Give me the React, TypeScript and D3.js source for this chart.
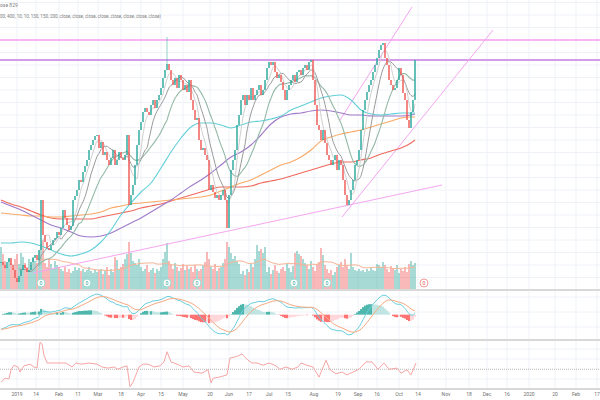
import React from 'react';
import * as d3 from 'd3';

// ---- daily closes (price units) ----
const closes = [
  52.8, 52.5, 52.2, 52.8, 53.2, 52.5, 52.0, 51.2, 50.8, 51.4, 52.0, 52.5, 52.2, 51.8, 52.0, 52.8, 53.2, 53.5, 53.0, 54.0,
  59.0, 55.5, 54.8, 54.2, 54.0, 54.5, 55.0, 55.2, 55.8, 55.5,
  56.2, 58.0, 57.2, 56.5, 56.0, 56.4, 59.0, 59.4, 60.0, 61.0,
  60.8, 61.8, 62.4, 63.0, 64.0, 64.5, 65.0, 65.4, 65.5, 64.2,
  64.8, 63.5, 63.8, 63.0, 62.5, 63.2, 64.0, 62.5, 63.0, 63.8,
  63.2, 63.0, 63.5, 65.5, 58.5, 59.5, 60.5, 62.5, 64.5, 66.0,
  66.8, 67.8, 68.2, 67.8, 67.5, 68.5, 69.0, 68.2, 69.0, 69.5,
  70.2, 71.2, 72.0, 72.6, 72.0, 71.0, 70.5, 71.2, 70.2, 71.5,
  71.0, 70.0, 70.5, 69.8, 71.0, 69.0, 68.0, 67.0, 67.2, 65.0,
  64.0, 64.2, 63.5, 63.0, 60.0, 60.5, 59.8, 59.2, 59.5, 59.0,
  59.5, 60.0, 59.0, 56.2, 59.5, 62.0, 63.0, 64.0, 66.5, 67.5,
  69.0, 69.5, 68.5, 69.5, 69.0, 70.2, 69.0, 69.5, 70.0, 70.5,
  69.5, 70.0, 71.0, 72.2, 72.8, 72.5, 72.8, 71.8, 71.2, 71.5,
  70.8, 70.0, 69.0, 70.0, 70.5, 71.0, 71.5, 70.8, 71.8, 72.0,
  71.5, 72.2, 72.5, 72.0, 72.8, 73.0, 71.0, 68.5, 66.5, 66.0,
  65.0, 66.0, 64.7, 63.5, 63.0, 62.5, 63.0, 63.5, 62.0, 63.0,
  62.5, 61.0, 59.5, 58.5, 59.0, 60.0, 61.0, 62.5, 63.0, 64.0,
  66.0, 68.0, 69.0, 69.8, 70.5, 71.0, 71.8, 72.5, 73.2, 74.0,
  74.5, 74.7, 73.2, 72.5, 71.0, 70.5, 70.0, 70.2, 71.0, 72.2,
  71.5, 69.7, 69.0, 67.0, 66.2, 67.8, 69.0, 73.0,
];

// ---- daily volume (millions) ----
const volumes = [
  4.2, 3.5, 2.8, 2.2, 3.0, 2.6, 2.1, 3.0, 3.5, 2.5, 3.6, 3.2, 2.6, 2.2, 3.0, 2.4, 3.2, 2.8, 2.6, 3.0,
  4.5, 4.9, 2.6, 2.2, 3.0, 2.5, 2.0, 2.8, 2.4, 2.2,
  2.0, 1.8, 2.2, 1.7, 2.0, 1.6, 1.8, 2.2, 1.9, 2.1,
  1.8, 2.0, 1.7, 1.9, 2.2, 1.8, 1.6, 2.0, 1.7, 1.9,
  2.0, 1.5, 1.8, 2.2, 1.4, 2.0, 1.7, 3.2, 2.9, 2.0,
  2.2, 2.5, 3.0, 3.5, 4.7, 3.6, 2.8, 2.6, 2.4, 3.0,
  2.2, 1.8, 2.0, 2.4, 1.7, 1.9, 2.1, 1.6, 2.0, 1.8,
  2.2, 3.0, 3.7, 4.6, 2.8, 2.4, 2.0, 2.6, 2.2, 1.8,
  2.1, 2.5, 1.9, 2.3, 2.0, 2.2, 1.7, 2.4, 2.0, 1.8,
  2.0, 2.4, 2.7, 3.7, 3.0, 2.2, 2.0, 2.5, 1.8, 2.1,
  2.2, 2.6, 3.0, 4.7, 4.2, 3.6, 3.0, 3.3, 2.8, 2.5,
  1.5, 1.8, 1.4, 2.0, 1.7, 2.5, 2.2, 3.0, 4.4, 3.8,
  4.0, 3.6, 4.2, 1.7, 2.2, 1.5, 1.9, 2.4, 1.8, 1.6,
  2.0, 2.2, 1.8, 2.5, 2.1, 1.7, 2.3, 3.6, 3.8, 3.5,
  3.3, 3.0, 2.6, 2.4, 2.0, 2.8, 2.2, 1.8, 2.5, 2.7,
  4.1, 3.4, 2.4, 2.0, 1.6, 1.9, 1.4, 1.7, 2.2, 2.4,
  2.7, 2.2, 3.0, 2.4, 2.0, 3.6, 2.2, 1.9, 1.8, 2.0,
  1.8, 1.9, 1.7, 2.0, 1.8, 2.1, 1.9, 1.8, 2.5, 2.4,
  2.2, 2.7, 2.4, 2.0, 1.7, 2.3, 2.1, 1.9, 2.4, 1.6,
  2.0, 1.8, 2.2, 1.7, 2.5, 2.8, 2.4, 2.6,
];

// notable wick extremes [index, high]
const wickHighIdx = [83];
const wickHighVal = [75.3];

const maIdx = [0, 5, 10, 15, 20, 25, 30, 35, 40, 45, 50, 55, 60, 65, 70, 75, 80, 85, 90, 95, 100, 105, 110, 115, 120, 125, 130, 135, 140, 145, 150, 155, 160, 165, 170, 175, 180, 185, 190, 195, 200, 205, 207];
const maCyan = [54.7, 54.7, 54.8, 54.7, 54.4, 54.0, 53.6, 53.4, 53.6, 54.0, 54.8, 56.0, 57.5, 58.7, 59.8, 60.7, 62.2, 63.8, 65.2, 66.3, 66.7, 66.7, 66.5, 66.2, 66.5, 66.8, 66.9, 67.1, 67.4, 68.0, 68.4, 68.8, 69.2, 69.4, 69.5, 69.0, 68.0, 67.6, 67.5, 67.6, 67.7, 67.7, 67.7];
const maPurple = [58.8, 58.4, 58.0, 57.5, 57.0, 56.5, 56.2, 55.8, 55.4, 55.3, 55.4, 55.7, 56.2, 56.7, 57.2, 57.8, 58.4, 59.0, 59.7, 60.4, 61.0, 61.7, 62.5, 63.3, 63.8, 64.5, 65.5, 66.6, 67.3, 67.6, 67.7, 67.9, 68.0, 67.9, 67.7, 67.5, 67.5, 67.4, 67.4, 67.4, 67.4, 67.5, 67.6];
const maOrange = [57.7, 57.6, 57.5, 57.4, 57.4, 57.3, 57.3, 57.4, 57.5, 57.6, 57.8, 58.2, 58.4, 58.6, 58.7, 58.8, 58.9, 59.0, 59.1, 59.2, 59.3, 59.5, 59.9, 60.3, 60.7, 61.0, 61.5, 62.0, 62.5, 62.8, 63.3, 64.0, 64.9, 65.3, 65.6, 65.8, 66.0, 66.3, 66.6, 66.9, 67.2, 67.3, 67.3];
const maRed = [59.0, 58.6, 58.3, 57.9, 57.5, 57.2, 57.1, 57.1, 57.1, 57.1, 57.3, 57.5, 57.7, 57.9, 58.2, 58.4, 58.6, 58.9, 59.2, 59.5, 59.8, 60.1, 60.3, 60.3, 60.3, 60.4, 60.7, 60.9, 61.1, 61.4, 61.7, 62.0, 62.3, 62.6, 62.8, 62.8, 63.0, 63.2, 63.6, 63.9, 64.2, 64.7, 65.0];

// ---- lower oscillator (sampled) ----
const oscIdx = [0, 2, 4, 5, 6.5, 8.5, 9.5, 11.5, 14.5, 16.5, 18, 19.5, 20.5, 21.5, 23, 27, 32.5, 35.5, 37.5, 40, 44, 48, 50.5, 53.5, 56.5, 58.5, 61, 63, 64.5, 66, 69, 71, 73.5, 76.5, 79.5, 81.5, 83, 85, 88, 91, 94, 96.5, 100.5, 103.5, 105, 106, 109, 113, 114.5, 117.5, 120.5, 123.5, 125.5, 128, 131, 134, 137, 139.5, 142.5, 145.5, 148.5, 150, 153, 156, 159, 160.5, 162.5, 164.5, 167.5, 170.5, 173, 176, 179, 182.5, 185.5, 188.5, 191.5, 194, 198, 200, 203, 205, 207.5];
const oscVal = [27, 34, 33, 49, 57, 54, 45, 56, 59, 54, 52, 98, 95, 75, 61, 61, 61, 54, 61, 59, 61, 59, 54, 52, 54, 50, 54, 56, 19, 27, 54, 59, 59, 54, 56, 63, 81, 63, 59, 54, 56, 45, 43, 49, 26, 34, 36, 40, 70, 72, 77, 66, 61, 61, 57, 61, 57, 50, 54, 50, 54, 61, 57, 54, 36, 49, 66, 49, 42, 45, 40, 45, 50, 63, 63, 50, 61, 50, 52, 43, 49, 40, 61];

// ---- time axis labels ----
const tickLabels = ['2019', '14', 'Feb', '11', 'Mar', '18', 'Apr', '15', 'May', '20', 'Jun', '17', 'Jul', '15', 'Aug', '19', 'Sep', '16', 'Oct', '14', 'Nov', '18', 'Dec', '16', '2020', '20', 'Feb', '17'];
const tickIdx = [8, 17.5, 29, 38.5, 48.5, 60, 70, 80, 91, 104.5, 114, 124, 134, 143.5, 156.5, 168.5, 178.5, 188, 199, 208.5, 222.5, 234, 243, 253, 264, 277, 287.5, 298];

// ---- event markers ----
const eventIdx = [20, 43, 83, 98, 146.5, 163, 211.5];
const eventFuture = [false, false, false, false, false, false, true];

// ---- drawings: [idx1, price1, idx2, price2] ----
const hLevels = [75.0, 73.0];
const trendA = [16, 51.7, 220.5, 60.5];
const trendB = [170.5, 57.3, 246, 76.0];
const trendC = [169.5, 67.0, 205.5, 78.3];

function sma(a: number[], n: number): (number | null)[] {
  return a.map((_, i) => (i < n - 1 ? null : d3.mean(a.slice(i - n + 1, i + 1)) as number));
}
function ema(a: number[], n: number, seed?: number): number[] {
  const k = 2 / (n + 1);
  const out: number[] = [];
  a.forEach((v, i) => out.push(i === 0 ? (seed ?? v) : v * k + out[i - 1] * (1 - k)));
  return out;
}

export default function App() {
  const W = 600, H = 400;
  const x = d3.scaleLinear().domain([0, 299]).range([1, 599]);
  const y = d3.scaleLinear().domain([50, 79]).range([290, 0]);
  const yVol = d3.scaleLinear().domain([0, 10]).range([289, 189]);
  const yOsc = d3.scaleLinear().domain([15, 100]).range([389, 341]);

  const opens = closes.map((c, i) => (i === 0 ? c : closes[i - 1]));
  const UP = '#26a69a', DN = '#ef5350';

  // slow EMA seeded from the slower average level read at the left edge
  const e12 = ema(closes, 12), e26 = ema(closes, 26, maCyan[0]);
  const macd = closes.map((_, i) => e12[i] - e26[i]);
  const sig = ema(macd, 9);
  const hist = macd.map((m, i) => m - sig[i]);
  const mAll = macd.concat(sig);
  const yM = d3.scaleLinear().domain([d3.min(mAll) as number, d3.max(mAll) as number]).range([335, 294]);

  const lineIdx = d3.line<[number, number]>().x(d => x(d[0])).y(d => y(d[1])).curve(d3.curveMonotoneX);
  const maPath = (vals: number[]) => lineIdx(maIdx.map((ix, k) => [ix, vals[k]] as [number, number])) || '';
  const smaPath = (n: number) => {
    const s = sma(closes, n);
    const pts = s.map((v, i) => [i, v] as [number, number | null]).filter(p => p[1] !== null) as [number, number][];
    return d3.line<[number, number]>().x(d => x(d[0])).y(d => y(d[1])).curve(d3.curveMonotoneX)(pts) || '';
  };
  const volMA = sma(volumes, 20);
  const volMAPath = d3.line<[number, number]>().x(d => x(d[0])).y(d => yVol(d[1])).curve(d3.curveMonotoneX)(
    volMA.map((v, i) => [i, v] as [number, number | null]).filter(p => p[1] !== null) as [number, number][]) || '';
  const macdPath = d3.line<number>().x((_, i) => x(i)).y(d => yM(d)).curve(d3.curveMonotoneX)(macd) || '';
  const sigPath = d3.line<number>().x((_, i) => x(i)).y(d => yM(d)).curve(d3.curveMonotoneX)(sig) || '';
  const oscPath = d3.line<number>().x((_, i) => x(oscIdx[i])).y(d => yOsc(d)).curve(d3.curveLinear)(oscVal) || '';

  const gridX = tickIdx.map(t => x(t));
  const gridYMain = d3.range(50, 79.5, 1.25).map(p => y(p));
  const gridYMacd = [297, 312, 327];
  const gridYOsc = [349, 359, 379];
  const font = 'Roboto, "Liberation Sans", sans-serif';

  const seg = (t: number[], color: string) => (
    <line x1={x(t[0])} y1={y(t[1])} x2={x(t[2])} y2={y(t[3])} stroke={color} strokeWidth={1} />
  );

  return (
    <svg width={W} height={H} style={{ position: 'absolute', left: 0, top: 0, background: '#fff' }} fontFamily={font}>
      <defs>
        <clipPath id="pricePane"><rect x={0} y={0} width={W} height={289} /></clipPath>
        <clipPath id="macdPane"><rect x={0} y={291} width={W} height={48} /></clipPath>
      </defs>
      <rect x={0} y={0} width={W} height={H} fill="#fff" />
      {/* grid */}
      <g stroke="#eef2f7" strokeWidth={1}>
        {gridX.map((gx, i) => <line key={'gx' + i} x1={gx} x2={gx} y1={0} y2={389} />)}
        {gridYMain.map((gy, i) => <line key={'gy' + i} x1={0} x2={W} y1={gy} y2={gy} />)}
        {gridYMacd.map((gy, i) => <line key={'gm' + i} x1={0} x2={W} y1={gy} y2={gy} />)}
        {gridYOsc.map((gy, i) => <line key={'go' + i} x1={0} x2={W} y1={gy} y2={gy} />)}
      </g>

      {/* volume */}
      <g clipPath="url(#pricePane)">
        {volumes.map((v, i) => (
          <rect key={'v' + i} x={x(i) - 0.8} width={1.6} y={yVol(v)} height={yVol(0) - yVol(v)}
            fill={closes[i] >= opens[i] ? UP : DN} opacity={0.5} />
        ))}
        <path d={volMAPath} fill="none" stroke="#f6b596" strokeWidth={1} />
      </g>

      {/* event markers */}
      {eventIdx.map((ix, i) => (
        <g key={'e' + i}>
          <circle cx={x(ix)} cy={283} r={4} fill="#fff" stroke={eventFuture[i] ? '#f19a9a' : '#9ad9d0'} strokeWidth={1} />
          <text x={x(ix)} y={285} fontSize={5} textAnchor="middle" fill={eventFuture[i] ? '#ef5350' : '#26a69a'}>0</text>
        </g>
      ))}

      <g clipPath="url(#pricePane)">
        {/* horizontal levels */}
        <line x1={0} x2={W} y1={y(hLevels[0])} y2={y(hLevels[0])} stroke="#f7b4f2" strokeWidth={2} />
        <line x1={0} x2={W} y1={y(hLevels[1])} y2={y(hLevels[1])} stroke="#d39be8" strokeWidth={2} />
        {/* trend lines */}
        {seg(trendA, '#f4a6f0')}
        {seg(trendB, '#f4a6f0')}
        {seg(trendC, '#f4a6f0')}

        {/* moving averages */}
        <path d={maPath(maRed)} fill="none" stroke="#ef6a5e" strokeWidth={1.1} />
        <path d={maPath(maOrange)} fill="none" stroke="#f8a967" strokeWidth={1.1} />
        <path d={maPath(maPurple)} fill="none" stroke="#a07ac8" strokeWidth={1.1} />
        <path d={maPath(maCyan)} fill="none" stroke="#62cfd8" strokeWidth={1.1} />
        <path d={smaPath(20)} fill="none" stroke="#93b9a6" strokeWidth={1.1} />
        <path d={smaPath(10)} fill="none" stroke="#9a9a9a" strokeWidth={1} />
        <path d={smaPath(5)} fill="none" stroke="#cfcfcf" strokeWidth={1} />

        {/* candles */}
        {closes.map((c, i) => {
          const o = opens[i];
          const col = c >= o ? UP : DN;
          const top = y(Math.max(o, c)), bot = y(Math.min(o, c));
          const wi = wickHighIdx.indexOf(i);
          return (
            <g key={'c' + i}>
              {wi >= 0 && <line x1={x(i)} x2={x(i)} y1={y(wickHighVal[wi])} y2={top} stroke={col} strokeWidth={0.7} opacity={0.7} />}
              <rect x={x(i) - 0.7} width={1.4} y={top} height={Math.max(1, bot - top)} fill={col} />
            </g>
          );
        })}
      </g>

      {/* separators */}
      <line x1={0} x2={W} y1={290} y2={290} stroke="#d8d8d8" strokeWidth={2} />
      <line x1={0} x2={W} y1={340} y2={340} stroke="#d8d8d8" strokeWidth={2} />
      <line x1={0} x2={W} y1={389} y2={389} stroke="#d8d8d8" strokeWidth={2} />

      {/* MACD */}
      <g clipPath="url(#macdPane)">
        {hist.map((h, i) => {
          const prev = i > 0 ? hist[i - 1] : h;
          const col = h >= 0 ? (h >= prev ? '#26a69a' : '#b2dfdb') : (h < prev ? '#ff5252' : '#ffcdd2');
          return <rect key={'h' + i} x={x(i) - 0.8} width={1.6} y={Math.min(yM(0), yM(h))} height={Math.abs(yM(h) - yM(0))} fill={col} />;
        })}
        <path d={macdPath} fill="none" stroke="#6ccfdf" strokeWidth={1} />
        <path d={sigPath} fill="none" stroke="#f7ab84" strokeWidth={1} />
      </g>

      {/* oscillator */}
      <line x1={0} x2={W} y1={yOsc(50)} y2={yOsc(50)} stroke="#b5b5b5" strokeWidth={1} strokeDasharray="1,1" />
      <path d={oscPath} fill="none" stroke="#f6a5a5" strokeWidth={1} />

      {/* axis labels */}
      {tickLabels.map((t, i) => (
        <text key={'t' + i} x={x(tickIdx[i])} y={396} fontSize={5} fill="#707070" textAnchor="middle">{t}</text>
      ))}

      {/* legend text */}
      <text x={0} y={7} fontSize={5} fill="#808080">ose 829</text>
      <text x={0} y={18} fontSize={4.5} fill="#808080">00, 400, 10, 10, 130, 150, 200, close, close, close, close, close, close, close, close)</text>
    </svg>
  );
}
